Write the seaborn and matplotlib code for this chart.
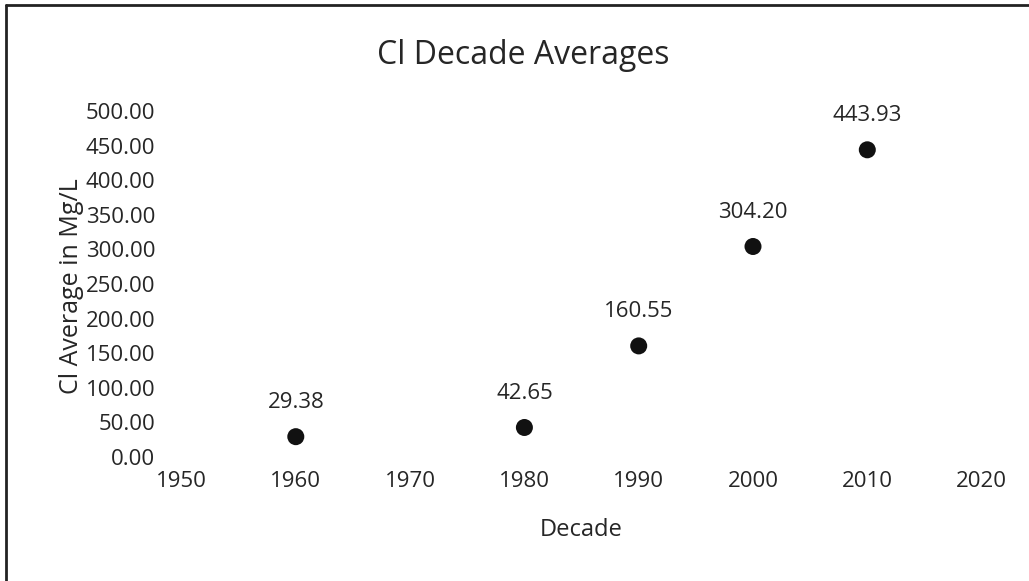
import matplotlib
matplotlib.use("Agg")
import matplotlib.pyplot as plt
import seaborn as sns
import pandas as pd
from matplotlib.lines import Line2D

decades = [1960, 1980, 1990, 2000, 2010]
cl_avg = [29.38, 42.65, 160.55, 304.20, 443.93]
x_ticks = [1950, 1960, 1970, 1980, 1990, 2000, 2010, 2020]
y_ticks = [0, 50, 100, 150, 200, 250, 300, 350, 400, 450, 500]

sns.set_theme(style="white")
plt.rcParams['font.family'] = ['Open Sans', 'DejaVu Sans']
txt = "#262626"

W, H = 1029, 581
fig = plt.figure(figsize=(W / 100, H / 100), dpi=100)
fig.patch.set_facecolor("white")
ax = fig.add_axes([181.5 / W, 1 - 457 / H, (981.6 - 181.5) / W, (457 - 111) / H])

df = pd.DataFrame({"Decade": decades, "Cl": cl_avg})
sns.scatterplot(data=df, x="Decade", y="Cl", ax=ax, s=150, color="#111111",
                edgecolor="none", legend=False, clip_on=False)

for xv, yv in zip(decades, cl_avg):
    ax.annotate(f"{yv:.2f}", (xv, yv), xytext=(0, 24.5), textcoords="offset points",
                ha="center", va="center", fontsize=16, color=txt)

ax.set_xlim(1950, 2020)
ax.set_ylim(0, 500)
ax.set_xticks(x_ticks)
ax.set_yticks(y_ticks)
ax.set_xticklabels([str(t) for t in x_ticks], fontsize=16, color=txt)
ax.set_yticklabels([f"{t:.2f}" for t in y_ticks], fontsize=16, color=txt)
ax.tick_params(axis="x", pad=10, length=0)
ax.tick_params(axis="y", pad=19, length=0)
for sp in ax.spines.values():
    sp.set_visible(False)
ax.set_xlabel("")
ax.set_ylabel("")

fig.text(523 / W, 1 - 55 / H, "Cl Decade Averages", ha="center", va="center",
         fontsize=23, color=txt)
fig.text(581 / W, 1 - 530 / H, "Decade", ha="center", va="center",
         fontsize=17, color=txt)
fig.text(71 / W, 1 - 286 / H, "Cl Average in Mg/L", ha="center", va="center",
         rotation=90, fontsize=18, color=txt)

# partial frame (top and left edges)
fig.add_artist(Line2D([6 / W, 6 / W], [0, 1 - 5 / H], transform=fig.transFigure,
                      color="#222222", lw=2))
fig.add_artist(Line2D([6 / W, 1], [1 - 5 / H, 1 - 5 / H], transform=fig.transFigure,
                      color="#222222", lw=2))

fig.savefig("out.png", dpi=100, facecolor="white")
